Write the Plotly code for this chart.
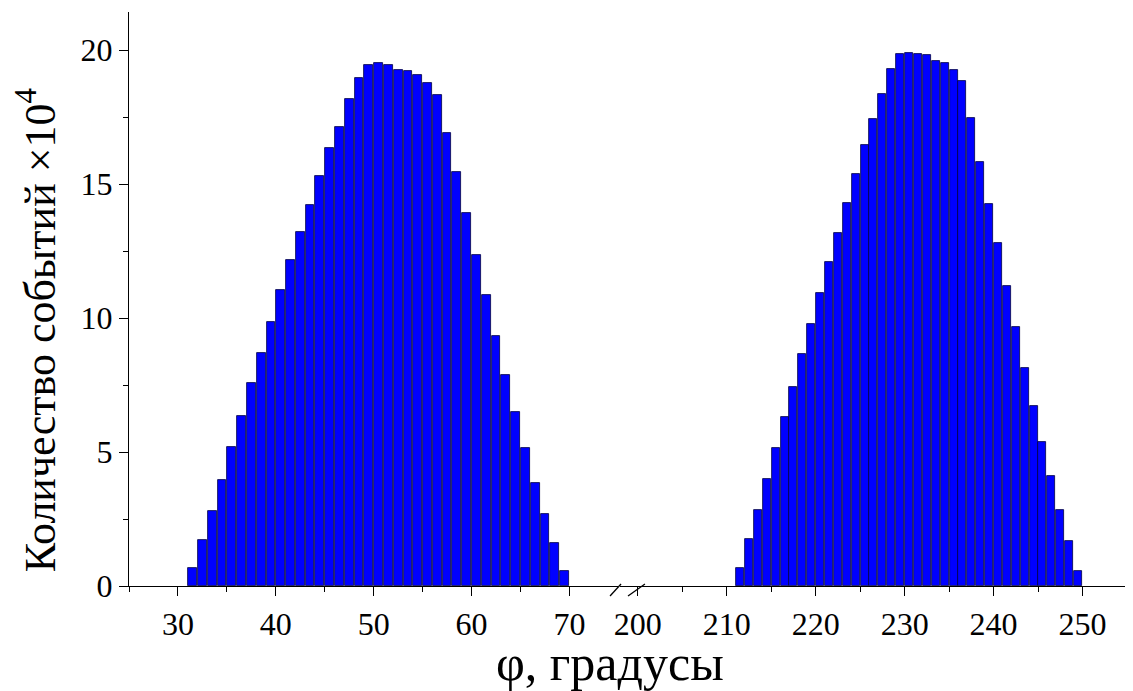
import plotly.graph_objects as go

# Bin centres (degrees) and counts (x10^4)
phi_left = [31.5, 32.5, 33.5, 34.5, 35.5, 36.5, 37.5, 38.5, 39.5, 40.5,
            41.5, 42.5, 43.5, 44.5, 45.5, 46.5, 47.5, 48.5, 49.5, 50.5,
            51.5, 52.5, 53.5, 54.5, 55.5, 56.5, 57.5, 58.5, 59.5, 60.5,
            61.5, 62.5, 63.5, 64.5, 65.5, 66.5, 67.5, 68.5, 69.5]
counts_left = [0.67, 1.73, 2.80, 3.94, 5.19, 6.35, 7.56, 8.69, 9.86, 11.03,
               12.17, 13.21, 14.23, 15.29, 16.33, 17.14, 18.17, 18.94, 19.45, 19.52,
               19.44, 19.26, 19.21, 19.06, 18.78, 18.34, 16.90, 15.46, 13.93, 12.34,
               10.87, 9.34, 7.86, 6.50, 5.16, 3.86, 2.68, 1.60, 0.56]

phi_right = [211.5, 212.5, 213.5, 214.5, 215.5, 216.5, 217.5, 218.5, 219.5, 220.5,
             221.5, 222.5, 223.5, 224.5, 225.5, 226.5, 227.5, 228.5, 229.5, 230.5,
             231.5, 232.5, 233.5, 234.5, 235.5, 236.5, 237.5, 238.5, 239.5, 240.5,
             241.5, 242.5, 243.5, 244.5, 245.5, 246.5, 247.5, 248.5, 249.5]
counts_right = [0.67, 1.76, 2.83, 4.00, 5.16, 6.32, 7.43, 8.67, 9.77, 10.93,
                12.10, 13.19, 14.29, 15.39, 16.47, 17.43, 18.37, 19.28, 19.86, 19.88,
                19.86, 19.80, 19.61, 19.53, 19.26, 18.86, 17.48, 15.83, 14.27, 12.79,
                11.19, 9.67, 8.12, 6.70, 5.36, 4.10, 2.85, 1.67, 0.56]

left_ticks = [30, 40, 50, 60, 70]
left_minor = [25, 35, 45, 55, 65]
right_ticks = [200, 210, 220, 230, 240, 250]
right_minor = [205, 215, 225, 235, 245, 255]
y_ticks = [0, 5, 10, 15, 20]
y_minor = [2.5, 7.5, 12.5, 17.5]

FONT = "Liberation Serif"
BAR = "#0000FF"
EDGE = "#000040"

fig = go.Figure()
fig.add_trace(go.Bar(x=phi_left, y=counts_left, width=0.9, xaxis="x", yaxis="y",
                     marker=dict(color=BAR, line=dict(color=EDGE, width=0.8)),
                     showlegend=False))
fig.add_trace(go.Bar(x=phi_right, y=counts_right, width=0.9, xaxis="x2", yaxis="y",
                     marker=dict(color=BAR, line=dict(color=EDGE, width=0.8)),
                     showlegend=False))

axis_common = dict(showline=True, linecolor="black", linewidth=1.3, ticks="outside",
                   ticklen=9, tickwidth=1.3, tickcolor="black", showgrid=False,
                   zeroline=False, tickfont=dict(family=FONT, size=32, color="black"))

fig.update_layout(
    width=1125, height=683,
    margin=dict(l=121, r=6, t=4, b=105),
    paper_bgcolor="white", plot_bgcolor="white",
    bargap=0,
    xaxis=dict(domain=[0, 0.4903], range=[25, 75], tickmode="array", tickvals=left_ticks,
               minor=dict(tickvals=left_minor, ticks="outside", ticklen=5, tickwidth=1.3,
                          tickcolor="black"),
               anchor="y", **axis_common),
    xaxis2=dict(domain=[0.492, 1], range=[198, 255], tickmode="array", tickvals=right_ticks,
                minor=dict(tickvals=right_minor, ticks="outside", ticklen=5, tickwidth=1.3,
                           tickcolor="black"),
                anchor="y", **axis_common),
    yaxis=dict(range=[0, 21.42], tickmode="array", tickvals=y_ticks,
               minor=dict(tickvals=y_minor, ticks="outside", ticklen=5, tickwidth=1.3,
                          tickcolor="black"),
               anchor="x", **axis_common),
    annotations=[
        dict(text="φ, градусы", xref="paper", yref="paper", x=0.482, y=-0.135,
             xanchor="center", yanchor="middle", showarrow=False,
             font=dict(family=FONT, size=50, color="black")),
        dict(text="Количество событий ×10<sup>4</sup>", xref="paper", yref="paper",
             x=-0.092, y=0.446, xanchor="center", yanchor="middle", textangle=-90,
             showarrow=False, font=dict(family=FONT, size=44, color="black")),
    ],
    shapes=[
        dict(type="line", xref="paper", yref="paper", x0=0.482, y0=-0.0174, x1=0.493, y1=0.0035,
             line=dict(color="black", width=1.3)),
        dict(type="line", xref="paper", yref="paper", x0=0.5, y0=-0.0174, x1=0.517, y1=0.0035,
             line=dict(color="black", width=1.3)),
    ],
)

fig.write_html("out.html")
